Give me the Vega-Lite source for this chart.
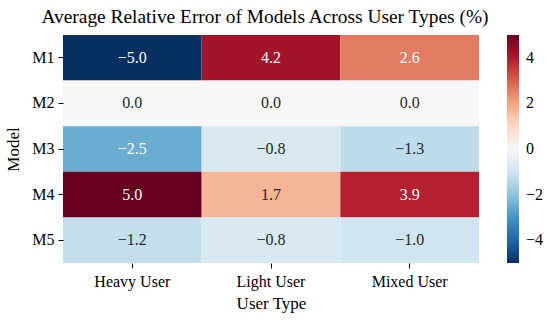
{
  "$schema": "https://vega.github.io/schema/vega-lite/v6.json",
  "autosize": "none",
  "padding": {"left": 63, "top": 35, "right": 71, "bottom": 57},
  "width": 416,
  "height": 228,
  "background": "white",
  "title": {
    "text": "Average Relative Error of Models Across User Types (%)",
    "font": "Liberation Serif",
    "fontSize": 19.4,
    "fontWeight": "normal",
    "color": "#000",
    "anchor": "middle",
    "dx": -6,
    "offset": 8
  },
  "config": {
    "view": {"stroke": null},
    "font": "Liberation Serif"
  },
  "data": {
    "values": [
      {"model": "M1", "user": "Heavy User", "value": -5.0},
      {"model": "M1", "user": "Light User", "value": 4.2},
      {"model": "M1", "user": "Mixed User", "value": 2.6},
      {"model": "M2", "user": "Heavy User", "value": 0.0},
      {"model": "M2", "user": "Light User", "value": 0.0},
      {"model": "M2", "user": "Mixed User", "value": 0.0},
      {"model": "M3", "user": "Heavy User", "value": -2.5},
      {"model": "M3", "user": "Light User", "value": -0.8},
      {"model": "M3", "user": "Mixed User", "value": -1.3},
      {"model": "M4", "user": "Heavy User", "value": 5.0},
      {"model": "M4", "user": "Light User", "value": 1.7},
      {"model": "M4", "user": "Mixed User", "value": 3.9},
      {"model": "M5", "user": "Heavy User", "value": -1.2},
      {"model": "M5", "user": "Light User", "value": -0.8},
      {"model": "M5", "user": "Mixed User", "value": -1.0}
    ]
  },
  "encoding": {
    "x": {
      "field": "user", "type": "nominal", "title": "User Type",
      "scale": {"paddingInner": 0, "paddingOuter": 0},
      "axis": {"labelAngle": 0, "domain": false, "tickSize": 5, "tickColor": "#000", "labelFont": "Liberation Serif", "labelFontSize": 16, "labelColor": "#000", "titleFont": "Liberation Serif", "titleFontSize": 17, "titleFontWeight": "normal", "titleColor": "#000", "labelPadding": 5, "titlePadding": 6}
    },
    "y": {
      "field": "model", "type": "nominal", "title": "Model",
      "scale": {"paddingInner": 0, "paddingOuter": 0},
      "axis": {"domain": false, "tickSize": 5, "tickColor": "#000", "labelFont": "Liberation Serif", "labelFontSize": 16, "labelColor": "#000", "titleFont": "Liberation Serif", "titleFontSize": 17, "titleFontWeight": "normal", "titleColor": "#000", "labelPadding": 4, "titlePadding": 9}
    }
  },
  "layer": [
    {
      "mark": {"type": "rect"},
      "encoding": {
        "color": {
          "field": "value", "type": "quantitative",
          "scale": {
            "domain": [-5, -4, -3, -2, -1, 0, 1, 2, 3, 4, 5],
            "range": ["#053061", "#2166ac", "#4393c3", "#92c5de", "#d1e5f0", "#f7f7f7", "#fddbc7", "#f4a582", "#d6604d", "#b2182b", "#67001f"],
            "interpolate": "rgb"
          },
          "legend": {
            "title": null,
            "values": [-4, -2, 0, 2, 4],
            "gradientLength": 228,
            "gradientThickness": 12,
            "offset": 28,
            "labelFont": "Liberation Serif",
            "labelFontSize": 16,
            "labelColor": "#000",
            "labelOffset": 7,
            "direction": "vertical"
          }
        }
      }
    },
    {
      "mark": {"type": "text", "font": "Liberation Serif", "fontSize": 16},
      "encoding": {
        "text": {"field": "value", "type": "quantitative", "format": ".1f"},
        "color": {
          "condition": {"test": "abs(datum.value) >= 2.5", "value": "white"},
          "value": "#262626"
        }
      }
    }
  ]
}
